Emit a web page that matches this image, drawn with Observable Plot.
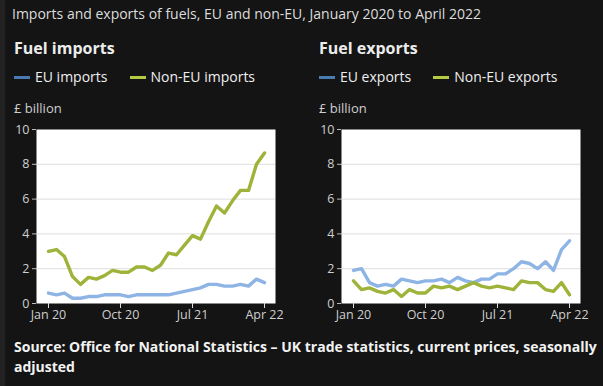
<!DOCTYPE html>
<html>
<head>
<meta charset="utf-8">
<script src="https://cdn.jsdelivr.net/npm/d3@7"></script>
<script src="https://cdn.jsdelivr.net/npm/@observablehq/plot@0.6"></script>
<style>
  html, body { margin: 0; padding: 0; }
  body { width: 603px; height: 386px; background: #141414; position: relative; overflow: hidden; font-family: "Open Sans", sans-serif; border-left: 5px solid #222; box-sizing: border-box; }
  .abs { position: absolute; white-space: nowrap; }
  .title { left: 7px; top: 4px; font-size: 14px; line-height: 20px; color: #dcdcdc; }
  .head { font-size: 16px; font-weight: 700; line-height: 20px; color: #ececec; top: 38px; }
  .leg { top: 68px; font-size: 14px; line-height: 18px; color: #efefef; display: flex; align-items: center; }
  .leg .sw { display: inline-block; width: 16px; height: 3px; margin-right: 5px; }
  .leg .item { display: flex; align-items: center; margin-right: 22px; }
  .unit { top: 99px; font-size: 13px; line-height: 18px; color: #cfcfcf; }
  .src { left: 9px; top: 337px; width: 585px; white-space: normal; font-size: 14px; font-weight: 700; line-height: 20px; color: #f2f2f2; }
  .chart { position: absolute; top: 115px; }
</style>
</head>
<body>
<div class="abs title">Imports and exports of fuels, EU and non-EU, January 2020 to April 2022</div>
<div class="abs head" style="left:9px">Fuel imports</div>
<div class="abs head" style="left:314px">Fuel exports</div>
<div class="abs leg" id="legL" style="left:9px"></div>
<div class="abs leg" id="legR" style="left:314px"></div>
<div class="abs unit" style="left:9px">£ billion</div>
<div class="abs unit" style="left:314px">£ billion</div>
<div class="chart" id="chartL" style="left:-5px"></div>
<div class="chart" id="chartR" style="left:295px"></div>
<div class="abs src">Source: Office for National Statistics – UK trade statistics, current prices, seasonally adjusted</div>
<script>
const months = ["2020-01","2020-02","2020-03","2020-04","2020-05","2020-06","2020-07","2020-08","2020-09","2020-10","2020-11","2020-12",
  "2021-01","2021-02","2021-03","2021-04","2021-05","2021-06","2021-07","2021-08","2021-09","2021-10","2021-11","2021-12",
  "2022-01","2022-02","2022-03","2022-04"];
const euImports = [0.6,0.5,0.6,0.3,0.3,0.4,0.4,0.5,0.5,0.5,0.4,0.5,0.5,0.5,0.5,0.5,0.6,0.7,0.8,0.9,1.1,1.1,1.0,1.0,1.1,1.0,1.4,1.2];
const nonEuImports = [3.0,3.1,2.7,1.55,1.1,1.5,1.4,1.6,1.9,1.8,1.8,2.1,2.1,1.9,2.2,2.9,2.8,3.35,3.9,3.7,4.7,5.6,5.2,5.9,6.5,6.5,8.0,8.65];
const euExports = [1.9,2.0,1.2,1.0,1.1,1.0,1.4,1.3,1.2,1.3,1.3,1.4,1.2,1.5,1.3,1.2,1.4,1.4,1.7,1.7,2.0,2.4,2.3,2.0,2.4,1.9,3.1,3.6];
const nonEuExports = [1.3,0.8,0.9,0.7,0.6,0.8,0.4,0.8,0.6,0.6,1.0,0.9,1.0,0.8,1.0,1.2,1.0,0.9,1.0,0.9,0.8,1.3,1.2,1.2,0.8,0.7,1.2,0.5];
const xTicks = ["2020-01","2020-10","2021-07","2022-04"];
const xTickLabels = ["Jan 20","Oct 20","Jul 21","Apr 22"];
const yTicks = [0,2,4,6,8,10];
const seriesColors = {eu: "#8db4e5", nonEu: "#9db339"};
const swatchColors = {eu: "#4a7ab2", nonEu: "#b5c941"};

function legend(id, labels) {
  const el = document.getElementById(id);
  [["eu", labels[0]], ["nonEu", labels[1]]].forEach(([k, t]) => {
    const it = document.createElement("span");
    it.className = "item";
    const sw = document.createElement("span");
    sw.className = "sw";
    sw.style.background = swatchColors[k];
    it.appendChild(sw);
    it.appendChild(document.createTextNode(t));
    el.appendChild(it);
  });
}
legend("legL", ["EU imports", "Non-EU imports"]);
legend("legR", ["EU exports", "Non-EU exports"]);

function chart(eu, nonEu, width, mLeft, mRight) {
  const rows = [];
  months.forEach((m, i) => {
    rows.push({month: m, value: eu[i], series: "eu"});
    rows.push({month: m, value: nonEu[i], series: "nonEu"});
  });
  return Plot.plot({
    width, height: 215,
    marginLeft: mLeft, marginRight: mRight, marginTop: 14, marginBottom: 27,
    style: {background: "transparent", color: "#cfcfcf", fontSize: "12.5px", fontFamily: "Open Sans, sans-serif"},
    x: {type: "point", domain: months, padding: 0},
    y: {domain: [0, 10]},
    color: {domain: ["eu", "nonEu"], range: [seriesColors.eu, seriesColors.nonEu]},
    marks: [
      Plot.frame({fill: "white", stroke: null}),
      Plot.gridY([2, 4, 6, 8], {stroke: "#dedede", strokeOpacity: 1}),
      Plot.line(rows, {x: "month", y: "value", z: "series", stroke: "series", strokeWidth: 3.4, strokeLinejoin: "round"}),
      Plot.axisY({ticks: yTicks, tickSize: 4, tickPadding: 3, label: null, stroke: "#bbb", strokeOpacity: 1}),
      Plot.axisX({ticks: xTicks, tickSize: 5, tickPadding: 2, label: null, stroke: "#ddd", strokeOpacity: 1,
        tickFormat: d => xTickLabels[xTicks.indexOf(d)]})
    ]
  });
}
document.getElementById("chartL").appendChild(chart(euImports, nonEuImports, 300, 36, 25));
document.getElementById("chartR").appendChild(chart(euExports, nonEuExports, 303, 41, 23));
</script>
</body>
</html>
